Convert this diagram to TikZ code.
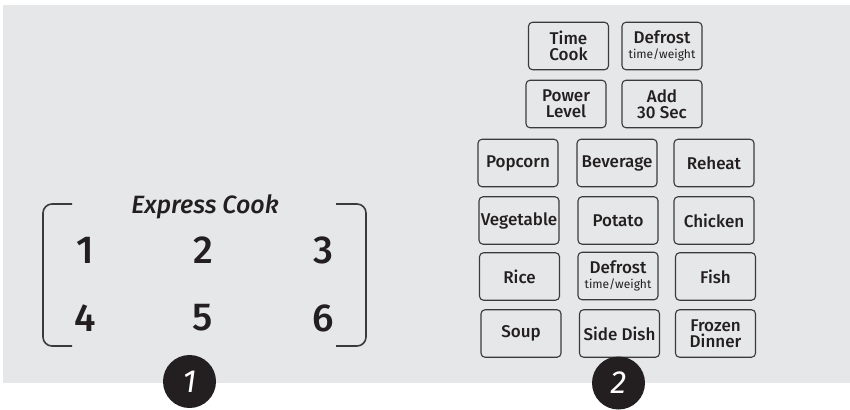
\documentclass[tikz,border=0pt]{standalone}
\usepackage{fontspec}
\setmainfont{Fira Sans}[BoldFont={* Medium}, BoldItalicFont={* Medium Italic}]
\definecolor{panel}{HTML}{E6E7E8}
\definecolor{edge}{HTML}{3A3A3A}
\definecolor{ink}{HTML}{231F20}
\tikzset{
  btn/.style={draw=edge, line width=1.1pt, rounded corners=4pt, fill=panel,
    minimum width=80pt, minimum height=47.5pt, inner sep=0pt, align=center,
    text=ink, font=\fontsize{17}{15.5}\selectfont\bfseries},
  digit/.style={text=ink, font=\fontsize{39}{39}\selectfont\bfseries, inner sep=0pt},
  bracket/.style={draw=edge, line width=1.6pt, rounded corners=9pt},
  badge/.style={circle, fill=ink, minimum size=53pt, inner sep=0pt, text=white,
    font=\fontsize{32}{32}\selectfont\itshape}
}
\newcommand{\sm}[1]{{\fontsize{12}{11}\selectfont\mdseries #1}}
\begin{document}
\begin{tikzpicture}[x=1pt,y=-1pt]
\useasboundingbox (0,0) rectangle (850,409);
\fill[panel] (3,5) rectangle (850,383);
% keypad
\node[btn] (tc) at (568.5,46) {Time\\Cook};
\node[btn] (df1) at (662,46) {Defrost\\\sm{time/weight}};
\node[btn] (pl) at (566,104) {Power\\Level};
\node[btn] (add) at (662,104) {Add\\30 Sec};
\node[btn] (pop) at (518,163) {Popcorn};
\node[btn] (bev) at (617,163) {Beverage};
\node[btn] (reh) at (714,163) {Reheat};
\node[btn] (veg) at (519,220.5) {Vegetable};
\node[btn] (pot) at (618,220.5) {Potato};
\node[btn] (chk) at (714,220.5) {Chicken};
\node[btn] (rice) at (519.5,276.5) {Rice};
\node[btn] (df2) at (618,276) {Defrost\\\sm{time/weight}};
\node[btn] (fish) at (715.5,276.5) {Fish};
\node[btn] (soup) at (521,333.5) {Soup};
\node[btn] (side) at (619.5,333.5) {Side Dish};
\node[btn] (frz) at (715.5,333.5) {Frozen\\Dinner};
% express cook
\draw[bracket] (72,204) -- (43,204) -- (43,346) -- (72,346);
\draw[bracket] (336,204) -- (366,204) -- (366,346) -- (336,346);
\node[text=ink, font=\fontsize{25}{25}\selectfont\bfseries\itshape] (ec) at (205,207) {Express Cook};
\node[digit] (d1) at (85,250) {1};
\node[digit] (d2) at (203,250) {2};
\node[digit] (d3) at (323,250) {3};
\node[digit] (d4) at (85,318) {4};
\node[digit] (d5) at (203,318) {5};
\node[digit] (d6) at (323,318) {6};
% badges
\node[badge] (b1) at (189.5,381.5) {1};
\node[badge] (b2) at (618.5,383) {2};
\end{tikzpicture}
\end{document}
